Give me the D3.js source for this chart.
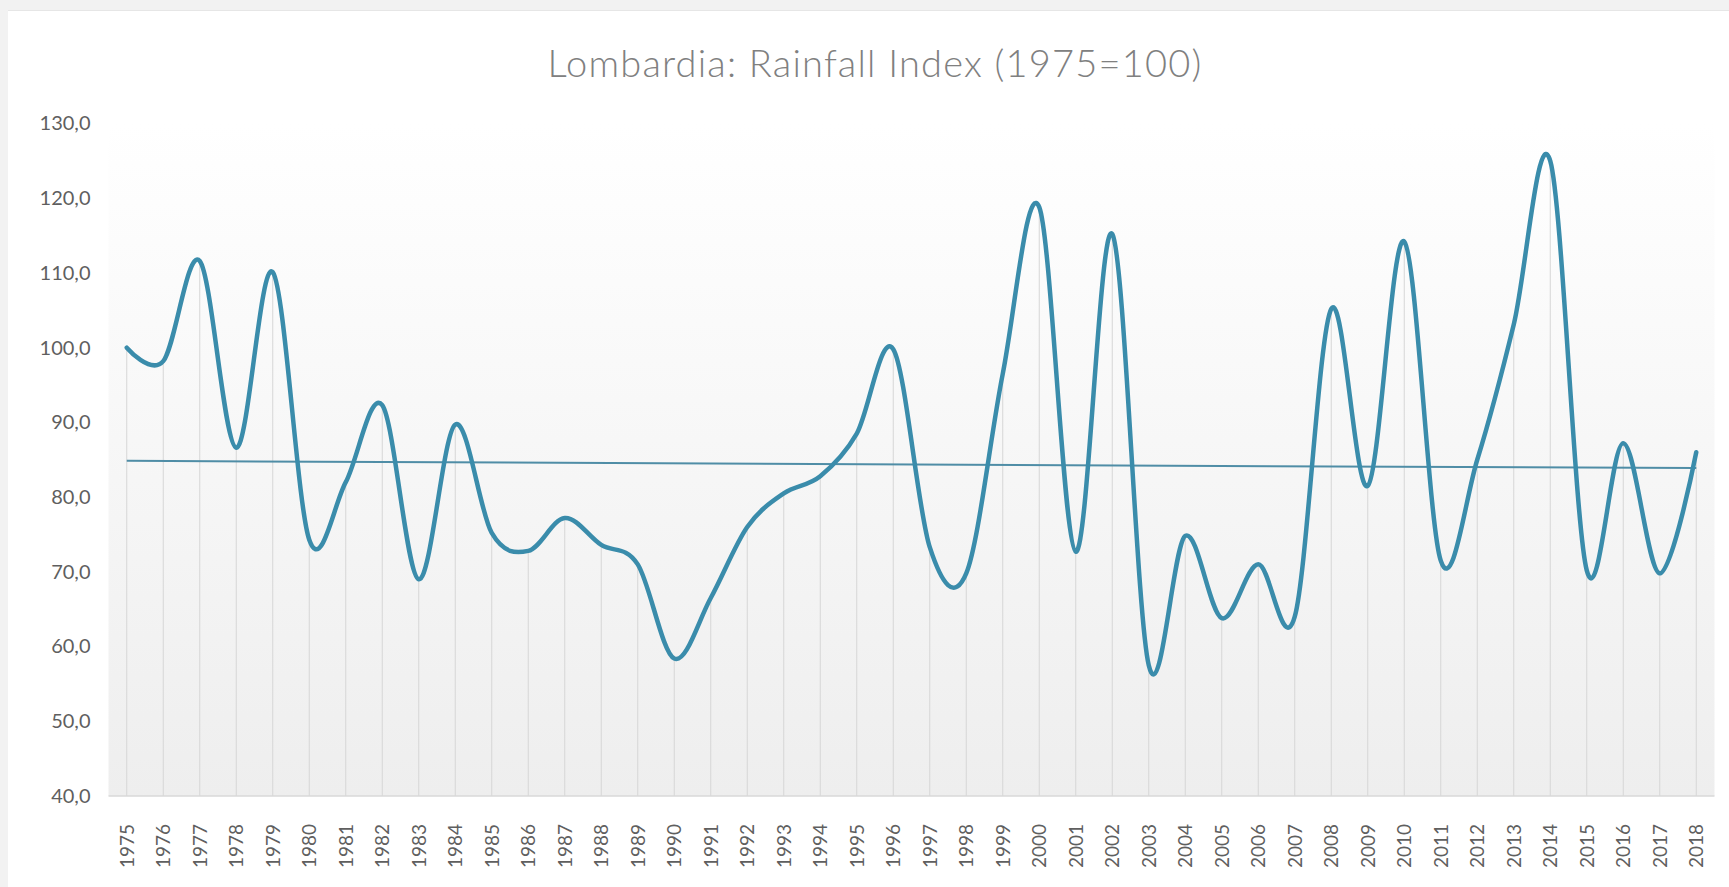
<!DOCTYPE html>
<html>
<head>
<meta charset="utf-8">
<script src="https://cdn.jsdelivr.net/npm/d3@7"></script>
<style>
  html, body { margin: 0; padding: 0; background: #f2f2f2; }
  svg { display: block; }
</style>
</head>
<body>
<svg id="chart" width="1729" height="887"></svg>
<script>
const years = [1975,1976,1977,1978,1979,1980,1981,1982,1983,1984,1985,1986,1987,1988,1989,1990,1991,1992,1993,1994,1995,1996,1997,1998,1999,2000,2001,2002,2003,2004,2005,2006,2007,2008,2009,2010,2011,2012,2013,2014,2015,2016,2017,2018];
const rainfallIndex = [100.0,98.2,111.6,86.6,110.1,74.3,82.0,92.3,69.0,89.7,75.2,72.8,77.2,73.6,71.0,58.4,66.5,76.0,80.5,82.8,88.5,99.8,73.3,69.8,96.5,118.8,72.7,115.2,57.5,74.8,63.8,71.0,64.0,105.2,81.5,114.2,71.5,85.0,103.1,125.0,70.2,87.2,69.8,86.0];
const yTicks = [40,50,60,70,80,90,100,110,120,130];
const titleText = "Lombardia: Rainfall Index (1975=100)";

const svg = d3.select("#chart");
const W = 1729, H = 887;
const plot = {left: 108.5, right: 1714.5, top: 123.5, bottom: 796};

// card
svg.append("rect").attr("x", 0).attr("y", 0).attr("width", W).attr("height", H).attr("fill", "#f2f2f2");
svg.append("rect").attr("x", 8).attr("y", 10).attr("width", W - 8).attr("height", 2).attr("fill", "#e6e6e6");
svg.append("rect").attr("x", 8).attr("y", 11).attr("width", W - 8).attr("height", H - 11).attr("fill", "#ffffff");

const defs = svg.append("defs");
const grad = defs.append("linearGradient").attr("id", "bg").attr("x1", 0).attr("y1", 0).attr("x2", 0).attr("y2", 1);
grad.append("stop").attr("offset", "0%").attr("stop-color", "#ffffff");
grad.append("stop").attr("offset", "100%").attr("stop-color", "#eeeeee");

const x = d3.scalePoint().domain(years).range([plot.left, plot.right]).padding(0.5);
const y = d3.scaleLinear().domain([40, 130]).range([plot.bottom, plot.top]);

svg.append("rect")
  .attr("x", plot.left).attr("y", plot.top)
  .attr("width", plot.right - plot.left).attr("height", plot.bottom - plot.top)
  .attr("fill", "url(#bg)");

const data = years.map((yr, i) => ({year: yr, value: rainfallIndex[i]}));

// drop lines
svg.append("g").selectAll("line").data(data).join("line")
  .attr("x1", d => x(d.year)).attr("x2", d => x(d.year))
  .attr("y1", y(40)).attr("y2", d => y(d.value))
  .attr("stroke", "#d6d6d6").attr("stroke-width", 1);

// bottom axis line
svg.append("line")
  .attr("x1", plot.left).attr("x2", plot.right)
  .attr("y1", y(40)).attr("y2", y(40))
  .attr("stroke", "#d9d9d9").attr("stroke-width", 1.5);

// y axis labels
const itLocale = d3.formatLocale({decimal: ",", thousands: ".", grouping: [3], currency: ["", " €"]});
const fmt = itLocale.format(".1f");
const yAxis = svg.append("g")
  .attr("transform", `translate(${plot.left},0)`)
  .call(d3.axisLeft(y).tickValues(yTicks).tickFormat(fmt).tickSize(0).tickPadding(18));
yAxis.select(".domain").remove();
yAxis.selectAll("text")
  .attr("font-family", "Lato, 'Open Sans', sans-serif")
  .attr("font-size", 20).attr("fill", "#5f5f5f");

// x axis labels
const xAxis = svg.append("g")
  .attr("transform", `translate(0,${plot.bottom})`)
  .call(d3.axisBottom(x).tickSize(0).tickFormat(d3.format("d")));
xAxis.select(".domain").remove();
xAxis.selectAll("text")
  .attr("font-family", "Lato, 'Open Sans', sans-serif")
  .attr("font-size", 19).attr("fill", "#5f5f5f")
  .attr("text-anchor", "end")
  .attr("dy", "0.35em")
  .attr("transform", "rotate(-90)")
  .attr("x", -28).attr("y", 0);

// trend line (least squares)
const n = data.length;
const idx = d3.range(n);
const mx = d3.mean(idx), my = d3.mean(rainfallIndex);
const slope = d3.sum(idx, i => (i - mx) * (rainfallIndex[i] - my)) / d3.sum(idx, i => (i - mx) ** 2);
const intercept = my - slope * mx;
const trend = [0, n - 1].map(i => ({year: years[i], value: intercept + slope * i}));
svg.append("path")
  .datum(trend)
  .attr("d", d3.line().x(d => x(d.year)).y(d => y(d.value)))
  .attr("fill", "none").attr("stroke", "#4f8da6").attr("stroke-width", 2);

// main smoothed line
svg.append("path")
  .datum(data)
  .attr("d", d3.line().x(d => x(d.year)).y(d => y(d.value)).curve(d3.curveCardinal.tension(0)))
  .attr("fill", "none").attr("stroke", "#3a8cab").attr("stroke-width", 4.5)
  .attr("stroke-linejoin", "round").attr("stroke-linecap", "round");

// title
svg.append("text")
  .attr("x", 875).attr("y", 77)
  .attr("text-anchor", "middle")
  .attr("font-family", "Lato, 'Open Sans', sans-serif")
  .attr("font-weight", 300)
  .attr("letter-spacing", 1.2)
  .attr("font-size", 38).attr("fill", "#808080")
  .text(titleText);
</script>
</body>
</html>
